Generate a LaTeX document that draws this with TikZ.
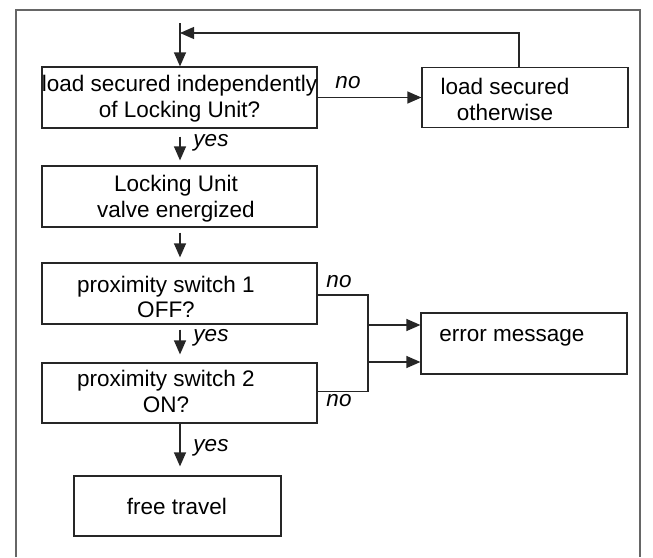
\documentclass[tikz,border=0pt]{standalone}
\usepackage{fontspec}
\setmainfont{Liberation Sans}
\usetikzlibrary{arrows.meta}
\tikzset{
  box/.style={draw=black!85, line width=1.2pt, rectangle, inner sep=0pt},
  txt/.style={align=center, font=\fontsize{22.5}{25.7}\selectfont, inner sep=0pt},
  lab/.style={font=\fontsize{22.5}{25}\selectfont\itshape, inner sep=0pt},
  arr/.style={draw=black!85, line width=1.2pt, -{Triangle[length=14pt,width=12pt]}},
  frame/.style={draw=black!60, line width=1.2pt}
}
\begin{document}
\begin{tikzpicture}[x=1pt,y=-1pt]
\useasboundingbox (0,0) rectangle (653,557);
\draw[frame] (16,557) -- (16,10) -- (640,10) -- (640,557);
% boxes
\node[box, minimum width=275pt, minimum height=61pt] (b1) at (179.5,97.5) {};
\node[box, minimum width=206pt, minimum height=60pt] (b2) at (525,97.5) {};
\node[box, minimum width=275pt, minimum height=61pt] (b3) at (179.5,196.5) {};
\node[box, minimum width=275pt, minimum height=61pt] (b4) at (179.5,293.5) {};
\node[box, minimum width=206pt, minimum height=61pt] (b5) at (524,343.5) {};
\node[box, minimum width=275pt, minimum height=60pt] (b6) at (179.5,393) {};
\node[box, minimum width=207pt, minimum height=60pt] (b7) at (177.5,506) {};
% texts
\node[txt] (t1) at (179.5,98.5) {load secured independently\\of Locking Unit?};
\node[txt] (t2) at (505,99.5) {load secured\\otherwise};
\node[txt] (t3) at (176,199) {Locking Unit\\valve energized};
\node[txt] (t4) at (166,297) {proximity switch 1\\OFF?};
\node[txt] (t5) at (512,338) {error message};
\node[txt] (t6) at (166,391.5) {proximity switch 2\\ON?};
\node[txt] (t7) at (177,506) {free travel};
% labels
\node[lab] (n1) at (348,83) {no};
\node[lab] (n2) at (339,282) {no};
\node[lab] (n3) at (339,401) {no};
\node[lab] (y1) at (211,143) {yes};
\node[lab] (y2) at (211,338) {yes};
\node[lab] (y3) at (211,448) {yes};
% connectors
\coordinate (start) at (180,23);
\coordinate (join) at (180,33);
\draw[arr] (start) -- (start |- b1.north);
\draw[arr] ([xshift=-6pt]b2.north) |- (join);
\draw[arr] (b1.east) -- (b2.west);
\draw[arr, shorten <=8pt, shorten >=5pt] (b1.south -| start) -- (b3.north -| start);
\draw[arr, shorten <=5pt, shorten >=5pt] (b3.south -| start) -- (b4.north -| start);
\draw[arr, shorten <=5pt, shorten >=8pt] (b4.south -| start) -- (b6.north -| start);
\draw[arr, shorten >=9pt] (b6.south -| start) -- (b7.north -| start);
\coordinate (k1) at (368,295);
\coordinate (k2) at (368,391.5);
\draw[arr] (b4.east |- k1) -- (k1) |- ([yshift=-18.5pt]b5.west);
\draw[arr] (b6.east |- k2) -- (k2) |- ([yshift=18.5pt]b5.west);
\end{tikzpicture}
\end{document}
